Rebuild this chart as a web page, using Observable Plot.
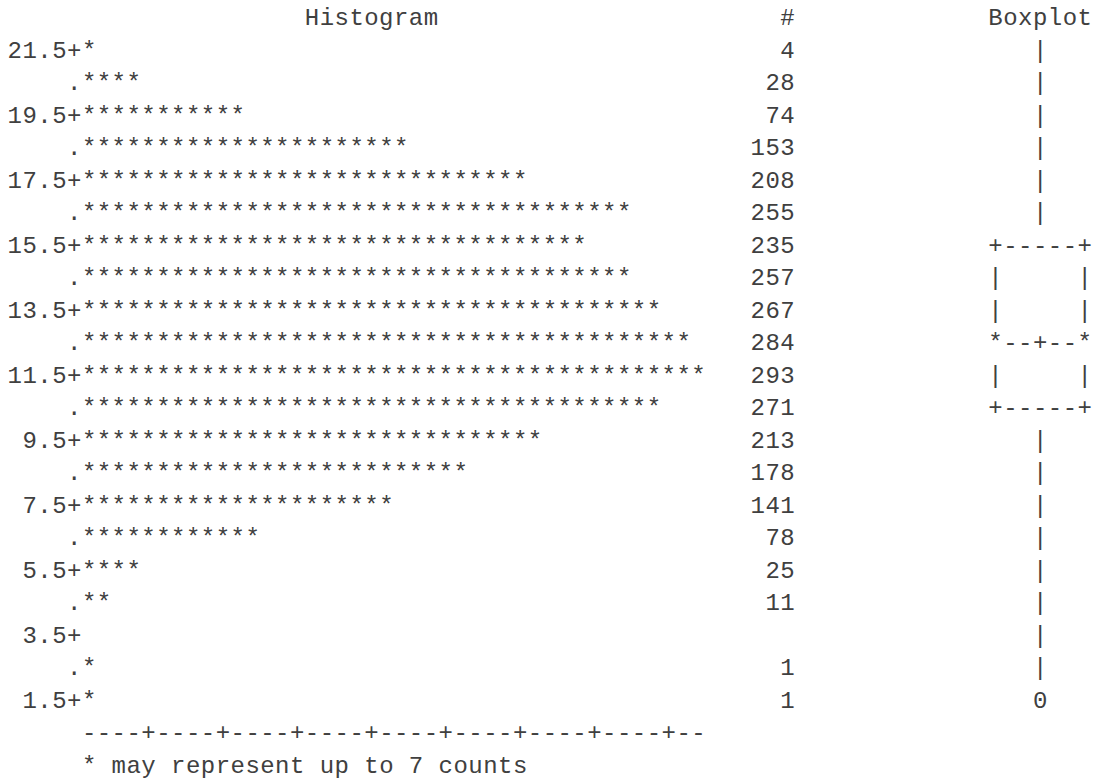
<!DOCTYPE html>
<html>
<head>
<meta charset="utf-8">
<script src="https://cdn.jsdelivr.net/npm/d3@7"></script>
<script src="https://cdn.jsdelivr.net/npm/@observablehq/plot@0.6"></script>
<style>
  html, body { margin: 0; padding: 0; background: #fff; }
  svg text { white-space: pre; letter-spacing: 0.46px; }
</style>
</head>
<body>
<div id="chart"></div>
<script>
// ---- Data (SAS-style text histogram) ----
const midpoints = [21.5, 20.5, 19.5, 18.5, 17.5, 16.5, 15.5, 14.5, 13.5, 12.5, 11.5,
                   10.5, 9.5, 8.5, 7.5, 6.5, 5.5, 4.5, 3.5, 2.5, 1.5];
const tickLabels = ["21.5+", ".", "19.5+", ".", "17.5+", ".", "15.5+", ".", "13.5+", ".", "11.5+",
                    ".", "9.5+", ".", "7.5+", ".", "5.5+", ".", "3.5+", ".", "1.5+"];
const counts = [4, 28, 74, 153, 208, 255, 235, 257, 267, 284, 293,
                271, 213, 178, 141, 78, 25, 11, 0, 1, 1];
const boxplotRows = ["|", "|", "|", "|", "|", "|", "+-----+", "|     |", "|     |", "*--+--*", "|     |",
                     "+-----+", "|", "|", "|", "|", "|", "|", "|", "|", "0"];
const countsPerStar = 7;
const histTitle = "Histogram";
const countTitle = "#";
const boxTitle = "Boxplot";
const axisLine = "----+----+----+----+----+----+----+----+--";
const footnote = "* may represent up to 7 counts";

// ---- Layout (character grid) ----
const CH = 14.86;          // character advance in px
const X0 = 7.1;            // left edge of column 0
const LINE0 = 24.8;        // baseline of first line (header)
const LH = 32.5;           // line pitch
const FONT = 24;           // Liberation Mono (0.6em advance) + letter-spacing -> CH
const COL_STARS = 5, COL_COUNT_END = 53, COL_BOX_CENTER = 69.5, COL_HIST_TITLE = 20;
const HEADER_Y = 22.5, AXIS_Y = 0.5, NOTE_Y = -0.5;

const rows = midpoints.map((m, i) => ({
  mid: m,
  label: tickLabels[i],
  count: counts[i],
  stars: "*".repeat(Math.ceil(counts[i] / countsPerStar)),
  box: boxplotRows[i]
}));

const common = {fontFamily: "Liberation Mono", fontSize: FONT, fill: "#404040", lineAnchor: "bottom"};

const chart = Plot.plot({
  width: 1099,
  height: 781,
  margin: 0,
  style: "background:#fff;white-space:pre;",
  x: {domain: [0, 74], range: [X0, X0 + 74 * CH], axis: null},
  y: {domain: [HEADER_Y, NOTE_Y], range: [LINE0, LINE0 + 23 * LH], axis: null},
  marks: [
    Plot.text([histTitle], {...common, x: COL_HIST_TITLE, y: HEADER_Y, text: d => d, textAnchor: "start"}),
    Plot.text([countTitle], {...common, x: COL_COUNT_END, y: HEADER_Y, text: d => d, textAnchor: "end"}),
    Plot.text([boxTitle], {...common, x: COL_BOX_CENTER, y: HEADER_Y, text: d => d, textAnchor: "middle"}),
    Plot.text(rows, {...common, x: COL_STARS, y: "mid", text: "label", textAnchor: "end"}),
    Plot.text(rows, {...common, x: COL_STARS, y: "mid", text: "stars", textAnchor: "start"}),
    Plot.text(rows, {...common, x: COL_COUNT_END, y: "mid", text: d => d.count ? String(d.count) : "", textAnchor: "end"}),
    Plot.text(rows, {...common, x: COL_BOX_CENTER, y: "mid", text: "box", textAnchor: "middle"}),
    Plot.text([axisLine], {...common, x: COL_STARS, y: AXIS_Y, text: d => d, textAnchor: "start"}),
    Plot.text([footnote], {...common, x: COL_STARS, y: NOTE_Y, text: d => d, textAnchor: "start"})
  ]
});
document.getElementById("chart").appendChild(chart);
</script>
</body>
</html>
